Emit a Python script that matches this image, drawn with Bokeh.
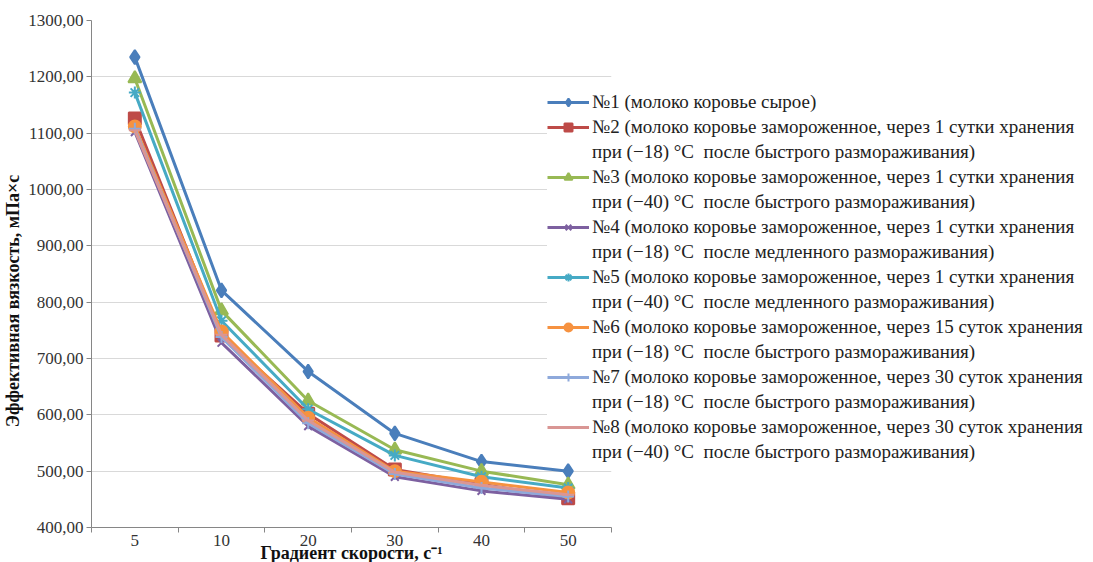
from bokeh.plotting import figure
from bokeh.models import (Legend, LegendItem, FixedTicker, CustomJSTickFormatter, Range1d)
from bokeh.embed import file_html
from bokeh.resources import INLINE

categories = ["5", "10", "20", "30", "40", "50"]
y_ticks = [400, 500, 600, 700, 800, 900, 1000, 1100, 1200, 1300]

s1 = [1235, 821, 677, 567, 517, 500]
s2 = [1126, 741, 602, 503, 477, 452]
s3 = [1197, 785, 625, 538, 500, 476]
s4 = [1102, 728, 580, 490, 465, 450]
s5 = [1172, 767, 610, 528, 490, 470]
s6 = [1112, 748, 595, 500, 481, 462]
s7 = [1108, 738, 585, 495, 470, 455]
s8 = [1105, 742, 590, 498, 475, 458]

labels_line1 = [
    "№1 (молоко коровье сырое)",
    "№2 (молоко коровье замороженное, через 1 сутки хранения",
    "№3 (молоко коровье замороженное, через 1 сутки хранения",
    "№4 (молоко коровье замороженное, через 1 сутки хранения",
    "№5 (молоко коровье замороженное, через 1 сутки хранения",
    "№6 (молоко коровье замороженное, через 15 суток хранения",
    "№7 (молоко коровье замороженное, через 30 суток хранения",
    "№8 (молоко коровье замороженное, через 30 суток хранения",
]
labels_line2 = [
    None,
    "при (\u221218) °С  после быстрого размораживания)",
    "при (\u221240) °С  после быстрого размораживания)",
    "при (\u221218) °С  после медленного размораживания)",
    "при (\u221240) °С  после медленного размораживания)",
    "при (\u221218) °С  после быстрого размораживания)",
    "при (\u221218) °С  после быстрого размораживания)",
    "при (\u221240) °С  после быстрого размораживания)",
]

x_title = "Градиент скорости, с\u207b\u00b9"
y_title = "Эффективная вязкость, мПа×с"

series = [s1, s2, s3, s4, s5, s6, s7, s8]
colors = ["#4A7EBB", "#BE4B48", "#98B954", "#7D60A0", "#46AAC5", "#F69240", "#8EA9DB", "#D99694"]
markers = ["diamond", "square", "triangle", "x", "asterisk", "circle", "cross", "dash"]
msizes = [14, 12, 13, 11, 12, 12, 12, 12]

FONT = "Liberation Serif"
n = len(categories)

p = figure(frame_width=520, frame_height=507, output_backend="svg", toolbar_location=None,
           min_border_left=90, min_border_top=20, min_border_bottom=35, min_border_right=0)
p.x_range = Range1d(0, n)
p.y_range = Range1d(y_ticks[0], y_ticks[-1])

xs = [i + 0.5 for i in range(n)]

items = []
for ys, c, m, ms, l1, l2 in zip(series, colors, markers, msizes, labels_line1, labels_line2):
    r1 = p.line(xs, ys, line_color=c, line_width=3)
    r2 = p.scatter(xs, ys, marker=m, size=ms, fill_color=c, line_color=c, line_width=2)
    items.append(LegendItem(label=l1, renderers=[r1, r2]))
    if l2:
        ghost = p.line(xs, ys, line_alpha=0)
        items.append(LegendItem(label=l2, renderers=[ghost]))

legend = Legend(items=items, location=(-64, 64), border_line_color=None,
                background_fill_color="white", background_fill_alpha=1.0,
                label_text_font=FONT, label_text_font_size="19px",
                label_text_color="#222222", glyph_width=42, glyph_height=20, label_height=22,
                label_standoff=3, spacing=3, padding=2, margin=-30)
p.add_layout(legend, "right")

p.xaxis.ticker = FixedTicker(ticks=xs, minor_ticks=list(range(n + 1)))
p.xaxis.major_label_overrides = {x: c for x, c in zip(xs, categories)}
p.xaxis.major_tick_out = 0
p.xaxis.major_tick_in = 0
p.xaxis.minor_tick_out = 5
p.xaxis.minor_tick_in = 0
p.xaxis.minor_tick_line_color = "#868686"
p.xaxis.axis_label = x_title

p.yaxis.ticker = FixedTicker(ticks=y_ticks)
p.yaxis.formatter = CustomJSTickFormatter(code="return tick.toFixed(2).replace('.', ',');")
p.yaxis.major_tick_out = 5
p.yaxis.major_tick_in = 0
p.yaxis.minor_tick_line_color = None
p.yaxis.axis_label = y_title + "\u00a0" * 12

for ax in (p.xaxis, p.yaxis):
    ax.axis_line_color = "#868686"
    ax.major_tick_line_color = "#868686"
    ax.major_label_text_font = FONT
    ax.major_label_text_font_size = "17px"
    ax.major_label_text_color = "#333333"
    ax.axis_label_text_font = FONT
    ax.axis_label_text_font_style = "bold"
    ax.axis_label_text_font_size = "18px"
    ax.axis_label_text_color = "#111111"

p.xaxis.major_label_standoff = 2
p.xaxis.axis_label_standoff = -6
p.yaxis.major_label_standoff = 3
p.yaxis.axis_label_standoff = 2

p.xgrid.grid_line_color = None
p.ygrid.grid_line_color = "#D9D9D9"
p.ygrid.grid_line_width = 1
p.outline_line_color = None

open("out.html", "w").write(file_html(p, INLINE))
